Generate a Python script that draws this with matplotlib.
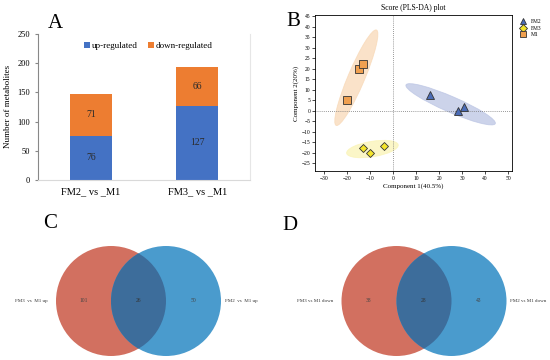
import numpy as np
import matplotlib.pyplot as plt
from matplotlib.patches import Ellipse, Circle

plt.rcParams['font.family'] = ['Liberation Serif', 'DejaVu Serif']

# panel A data
comparisons = ['FM2_ vs _M1', 'FM3_ vs _M1']
up_counts = [76, 127]
down_counts = [71, 66]

# panel B data (PLS-DA scores)
groups = ['FM2', 'FM3', 'M1']
comp1 = {'FM2': [16, 28, 31], 'FM3': [-13, -10, -4], 'M1': [-20, -15, -13]}
comp2 = {'FM2': [7.5, 0, 1.5], 'FM3': [-18, -20, -17], 'M1': [5, 20, 22]}

# panels C / D data (Venn counts: left only, shared, right only)
venn_up = [101, 26, 50]
venn_down = [38, 28, 43]
venn_up_labels = ['FM3  vs  M1 up', 'FM2  vs  M1 up']
venn_down_labels = ['FM3 vs M1 down', 'FM2 vs M1 down']

fig = plt.figure(figsize=(5.5, 3.6), dpi=100)

# ---------------- A ----------------
ax1 = fig.add_axes([0.069, 0.5, 0.386, 0.406])
x = np.arange(len(comparisons))
ax1.bar(x, up_counts, 0.4, color='#4472C4', label='up-regulated')
ax1.bar(x, down_counts, 0.4, bottom=up_counts, color='#ED7D31', label='down-regulated')
for i in range(len(x)):
    ax1.text(x[i], up_counts[i] / 2, str(up_counts[i]), ha='center', va='center',
             fontsize=7, color='#2b2b2b')
    ax1.text(x[i], up_counts[i] + down_counts[i] / 2, str(down_counts[i]),
             ha='center', va='center', fontsize=7, color='#2b2b2b')
ax1.set_xlim(-0.5, 1.5)
ax1.set_ylim(0, 250)
ax1.set_yticks(range(0, 251, 50))
ax1.set_xticks(x)
ax1.set_xticklabels(comparisons, fontsize=7.5)
ax1.tick_params(axis='y', labelsize=6, length=2, color='#888888')
ax1.tick_params(axis='x', length=0, pad=5)
ax1.set_ylabel('Number of metabolites', fontsize=6.5)
ax1.spines['top'].set_visible(False)
ax1.spines['left'].set_color('#888888')
ax1.spines['bottom'].set_color('#d9d9d9')
ax1.spines['right'].set_color('#e6e6e6')
ax1.legend(loc='upper center', ncol=2, frameon=False, fontsize=6.5,
           handlelength=0.6, handleheight=0.6, columnspacing=1.2,
           handletextpad=0.2, bbox_to_anchor=(0.52, 1.0))
fig.text(0.1, 0.935, 'A', fontsize=15, ha='center', va='center')

# ---------------- B ----------------
ax2 = fig.add_axes([0.573, 0.525, 0.358, 0.433])
styles = {
    'FM2': dict(marker='^', color='#4B6CB7', ell='#B7C1E2'),
    'FM3': dict(marker='D', color='#F5E52A', ell='#FAF3B0'),
    'M1': dict(marker='s', color='#F0A050', ell='#F8D6B2'),
}
k = 2.45
for g in groups:
    px = np.array(comp1[g], dtype=float)
    py = np.array(comp2[g], dtype=float)
    cov = np.cov(px, py)
    vals, vecs = np.linalg.eigh(cov)
    order = vals.argsort()[::-1]
    vals, vecs = vals[order], vecs[:, order]
    ang = np.degrees(np.arctan2(vecs[1, 0], vecs[0, 0]))
    w = 2 * k * np.sqrt(vals[0])
    h = 2 * k * max(np.sqrt(vals[1]), 1.5)
    ax2.add_patch(Ellipse((px.mean(), py.mean()), w, h, angle=ang,
                          facecolor=styles[g]['ell'], edgecolor=styles[g]['ell'],
                          alpha=0.7, lw=0.6, zorder=1))
for g in groups:
    ms = 5.5 if g != 'FM3' else 4.5
    ax2.plot(comp1[g], comp2[g], linestyle='none', marker=styles[g]['marker'],
             markersize=ms, markerfacecolor=styles[g]['color'],
             markeredgecolor='#333333', markeredgewidth=0.6, label=g, zorder=3)
ax2.axhline(0, color='#777777', lw=0.6, ls=(0, (1, 1.5)), zorder=2)
ax2.axvline(0, color='#777777', lw=0.6, ls=(0, (1, 1.5)), zorder=2)
ax2.set_xlim(-33.9, 51.7)
ax2.set_ylim(-28.8, 45.5)
ax2.set_xticks(range(-30, 51, 10))
ax2.set_yticks(range(-25, 46, 5))
ax2.tick_params(labelsize=4, length=2, width=0.5, pad=1.5)
for s in ax2.spines.values():
    s.set_linewidth(0.6)
ax2.set_title('Score (PLS-DA) plot', fontsize=5.5, pad=4)
ax2.set_xlabel('Component 1(40.5%)', fontsize=5, labelpad=2)
ax2.set_ylabel('Component 2(20%)', fontsize=5, labelpad=2)
ax2.legend(loc='upper left', bbox_to_anchor=(1.01, 1.0), frameon=False,
           fontsize=4, markerscale=0.8, handletextpad=0.3, labelspacing=0.3,
           borderaxespad=0.3)
fig.text(0.533, 0.94, 'B', fontsize=15, ha='center', va='center')

# ---------------- C / D ----------------
axv = fig.add_axes([0, 0, 1, 1], zorder=-1)
axv.set_xlim(0, 550)
axv.set_ylim(360, 0)
axv.axis('off')


def venn(ax, cx_left, cx_right, cy, r, counts, labels):
    ax.add_patch(Circle((cx_left, cy), r, facecolor='#D27060', edgecolor='none'))
    ax.add_patch(Circle((cx_right, cy), r, facecolor='#4A9BCD', edgecolor='none'))
    mid = Circle((cx_right, cy), r, facecolor='#3D6D9B', edgecolor='none')
    ax.add_patch(mid)
    mid.set_clip_path(Circle((cx_left, cy), r, transform=ax.transData))
    ax.text((cx_left - r + cx_right - r) / 2, cy, str(counts[0]), fontsize=4,
            ha='center', va='center', color='#444444')
    ax.text((cx_left + cx_right) / 2, cy, str(counts[1]), fontsize=4,
            ha='center', va='center', color='#333333')
    ax.text((cx_left + r + cx_right + r) / 2, cy, str(counts[2]), fontsize=4,
            ha='center', va='center', color='#444444')
    ax.text(cx_left - r - 8, cy, labels[0], fontsize=3.6, ha='right', va='center',
            color='#333333')
    ax.text(cx_right + r + 4, cy, labels[1], fontsize=3.6, ha='left', va='center',
            color='#333333')


venn(axv, 111, 166, 301, 55, venn_up, venn_up_labels)
venn(axv, 396.5, 451.5, 301, 55, venn_down, venn_down_labels)
fig.text(50 / 550, 1 - 223 / 360, 'C', fontsize=15, ha='center', va='center')
fig.text(290 / 550, 1 - 225 / 360, 'D', fontsize=15, ha='center', va='center')

fig.savefig('out.png', dpi=100)
